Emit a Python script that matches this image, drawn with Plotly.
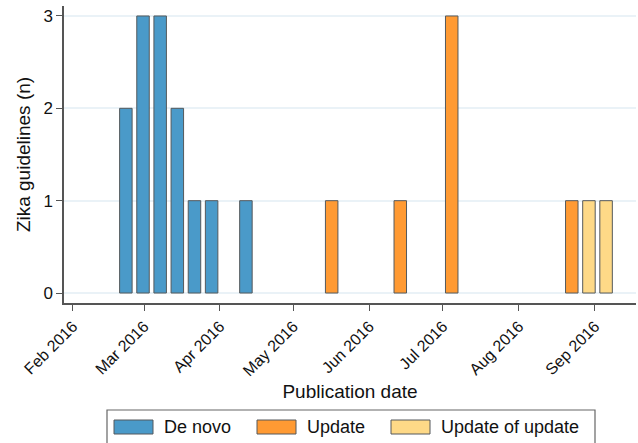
import plotly.graph_objects as go

# Data (weekly bins, bar centre dates)
denovo_dates = ["2016-02-22 14:00", "2016-02-29 14:00", "2016-03-07 14:00", "2016-03-14 14:00",
                "2016-03-21 14:00", "2016-03-28 14:00", "2016-04-11 14:00"]
denovo_vals = [2, 3, 3, 2, 1, 1, 1]
update_dates = ["2016-05-16 14:00", "2016-06-13 14:00", "2016-07-04 14:00", "2016-08-22 14:00"]
update_vals = [1, 1, 3, 1]
upd2_dates = ["2016-08-29 14:00", "2016-09-05 14:00"]
upd2_vals = [1, 1]

series_names = ["De novo", "Update", "Update of update"]
series_colors = ["#4a9ac9", "#ff9a33", "#fed987"]

tick_vals = ["2016-02-01", "2016-03-01", "2016-04-01", "2016-05-01",
             "2016-06-01", "2016-07-01", "2016-08-01", "2016-09-01"]
tick_text = ["Feb 2016", "Mar 2016", "Apr 2016", "May 2016",
             "Jun 2016", "Jul 2016", "Aug 2016", "Sep 2016"]

W, H = 638, 443
ML, MR, MT, MB = 64, 2, 6, 140
PW, PH = W - ML - MR, H - MT - MB


def xp(px):
    return (px - ML) / PW


def yp(py):
    return (H - MB - py) / PH


bar_w = 5.1 * 86400000
outline = dict(color="#55595c", width=1)

fig = go.Figure()
for name, col, xs, ys in zip(series_names, series_colors,
                             [denovo_dates, update_dates, upd2_dates],
                             [denovo_vals, update_vals, upd2_vals]):
    fig.add_bar(x=xs, y=ys, name=name, width=bar_w,
                marker=dict(color=col, line=outline))

font = "Liberation Sans, Arial, Helvetica, sans-serif"

# Custom legend (box, swatches, labels)
shapes = [dict(type="rect", xref="paper", yref="paper",
               x0=xp(107), x1=xp(595), y0=yp(448), y1=yp(410),
               line=dict(color="#666", width=1.2), fillcolor="white", layer="above")]
annotations = []
sw_left = [114, 257, 391]
for name, col, sx in zip(series_names, series_colors, sw_left):
    shapes.append(dict(type="rect", xref="paper", yref="paper",
                       x0=xp(sx), x1=xp(sx + 39), y0=yp(434), y1=yp(420),
                       line=dict(color="#55595c", width=1), fillcolor=col, layer="above"))
    annotations.append(dict(xref="paper", yref="paper", x=xp(sx + 48), y=yp(427),
                            xanchor="left", yanchor="middle", showarrow=False,
                            text=name, font=dict(size=18, color="#111", family=font)))

fig.update_layout(
    width=W, height=H,
    margin=dict(l=ML, r=MR, t=MT, b=MB),
    plot_bgcolor="white", paper_bgcolor="white",
    font=dict(family=font, color="#111", size=16),
    barmode="overlay",
    showlegend=False,
    shapes=shapes, annotations=annotations,
    xaxis=dict(type="date", range=["2016-01-28 08:00", "2016-09-17 19:00"],
               tickvals=tick_vals, ticktext=tick_text, tickangle=-45,
               ticks="outside", ticklen=6, tickcolor="#555",
               showline=True, linecolor="#555", linewidth=1.5,
               showgrid=False, zeroline=False, automargin=False,
               tickfont=dict(size=16),
               title=dict(text="Publication date", font=dict(size=19), standoff=6)),
    yaxis=dict(range=[-0.108, 3.108], tickvals=[0, 1, 2, 3],
               ticks="outside", ticklen=6, tickcolor="#555",
               showline=True, linecolor="#555", linewidth=1.5,
               showgrid=True, gridcolor="#eaf2f7", gridwidth=1.5, zeroline=False,
               automargin=False,
               tickfont=dict(size=17),
               title=dict(text="Zika guidelines (n)", font=dict(size=19), standoff=8)),
)

fig.write_html("out.html", config={"displayModeBar": False},
               post_script="document.body.style.margin='0px';document.body.style.overflow='hidden';")
